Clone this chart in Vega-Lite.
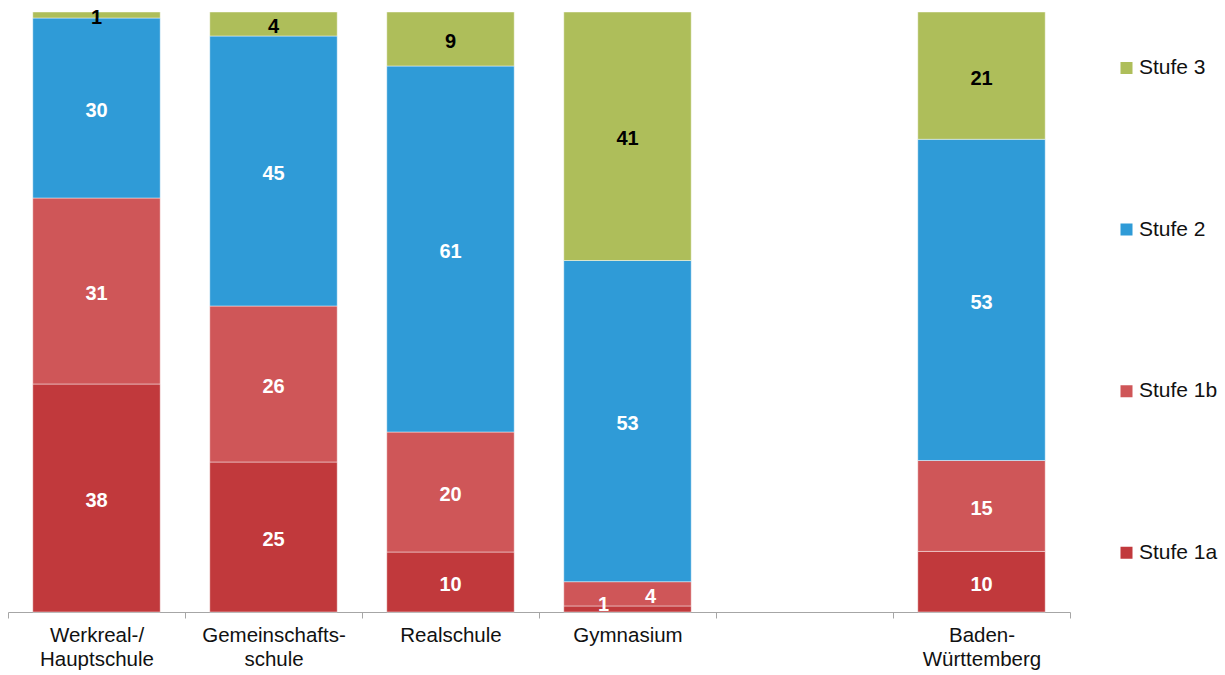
{
  "$schema": "https://vega.github.io/schema/vega-lite/v6.json",
  "width": 1062,
  "height": 600,
  "autosize": {"type": "none"},
  "padding": {"left": 8, "top": 12, "right": 155, "bottom": 63},
  "background": "white",
  "config": {
    "view": {"stroke": null},
    "font": "Liberation Sans"
  },
  "data": {
    "values": [
      {"schule": "Werkreal-/Hauptschule", "stufe": "Stufe 1a", "wert": 38},
      {"schule": "Werkreal-/Hauptschule", "stufe": "Stufe 1b", "wert": 31},
      {"schule": "Werkreal-/Hauptschule", "stufe": "Stufe 2", "wert": 30},
      {"schule": "Werkreal-/Hauptschule", "stufe": "Stufe 3", "wert": 1},
      {"schule": "Gemeinschaftsschule", "stufe": "Stufe 1a", "wert": 25},
      {"schule": "Gemeinschaftsschule", "stufe": "Stufe 1b", "wert": 26},
      {"schule": "Gemeinschaftsschule", "stufe": "Stufe 2", "wert": 45},
      {"schule": "Gemeinschaftsschule", "stufe": "Stufe 3", "wert": 4},
      {"schule": "Realschule", "stufe": "Stufe 1a", "wert": 10},
      {"schule": "Realschule", "stufe": "Stufe 1b", "wert": 20},
      {"schule": "Realschule", "stufe": "Stufe 2", "wert": 61},
      {"schule": "Realschule", "stufe": "Stufe 3", "wert": 9},
      {"schule": "Gymnasium", "stufe": "Stufe 1a", "wert": 1},
      {"schule": "Gymnasium", "stufe": "Stufe 1b", "wert": 4},
      {"schule": "Gymnasium", "stufe": "Stufe 2", "wert": 53},
      {"schule": "Gymnasium", "stufe": "Stufe 3", "wert": 41},
      {"schule": "Baden-Württemberg", "stufe": "Stufe 1a", "wert": 10},
      {"schule": "Baden-Württemberg", "stufe": "Stufe 1b", "wert": 15},
      {"schule": "Baden-Württemberg", "stufe": "Stufe 2", "wert": 53},
      {"schule": "Baden-Württemberg", "stufe": "Stufe 3", "wert": 21}
    ]
  },
  "encoding": {
    "x": {
      "field": "schule",
      "type": "nominal",
      "scale": {
        "domain": ["Werkreal-/Hauptschule", "Gemeinschaftsschule", "Realschule", "Gymnasium", "leer", "Baden-Württemberg"],
        "paddingInner": 0,
        "paddingOuter": 0
      },
      "axis": {
        "title": null,
        "labelAngle": 0,
        "labelFont": "Liberation Sans",
        "labelFontSize": 20.5,
        "labelColor": "#111111",
        "labelLineHeight": 24.5,
        "labelPadding": 7,
        "labelBaseline": "top",
        "tickBand": "extent",
        "tickSize": 6,
        "tickColor": "#A6A6A6",
        "domainColor": "#A6A6A6",
        "labelExpr": "datum.value == 'Werkreal-/Hauptschule' ? ['Werkreal-/', 'Hauptschule'] : datum.value == 'Gemeinschaftsschule' ? ['Gemeinschafts-', 'schule'] : datum.value == 'Baden-Württemberg' ? ['Baden-', 'Württemberg'] : datum.value == 'leer' ? '' : datum.value"
      }
    },
    "y": {
      "field": "wert",
      "type": "quantitative",
      "stack": "normalize",
      "scale": {"domain": [0, 1]},
      "axis": null
    },
    "order": {"field": "stufe", "sort": "ascending"}
  },
  "layer": [
    {
      "mark": {"type": "bar", "width": {"band": 0.72}, "stroke": "#ffffff", "strokeWidth": 1, "strokeOpacity": 0.45},
      "encoding": {
        "color": {
          "field": "stufe",
          "type": "nominal",
          "scale": {
            "domain": ["Stufe 3", "Stufe 2", "Stufe 1b", "Stufe 1a"],
            "range": ["#AEBE5A", "#2F9BD7", "#CF5658", "#C1393C"]
          },
          "legend": {
            "title": null,
            "orient": "none",
            "legendX": 1108,
            "legendY": 46,
            "padding": 0,
            "symbolType": "square",
            "symbolSize": 144,
            "symbolStrokeWidth": 0,
            "labelFont": "Liberation Sans",
            "labelFontSize": 21,
            "labelColor": "#111111",
            "labelOffset": 2,
            "clipHeight": 20,
            "rowPadding": 140.6
          }
        }
      }
    },
    {
      "mark": {"type": "text", "font": "Liberation Sans", "fontSize": 20, "fontWeight": "bold", "baseline": "middle", "dy": 3},
      "encoding": {
        "y": {"field": "wert", "type": "quantitative", "stack": "normalize", "bandPosition": 0.5},
        "text": {"field": "wert", "type": "quantitative"},
        "color": {"condition": {"test": "datum.stufe == 'Stufe 3'", "value": "#000000"}, "value": "#ffffff"},
        "opacity": {"condition": {"test": "datum.schule == 'Gymnasium' && (datum.stufe == 'Stufe 1a' || datum.stufe == 'Stufe 1b')", "value": 0}, "value": 1}
      }
    },
    {
      "mark": {"type": "text", "font": "Liberation Sans", "fontSize": 20, "fontWeight": "bold", "baseline": "middle", "dx": -24, "dy": -4, "color": "#ffffff"},
      "encoding": {
        "y": {"field": "wert", "type": "quantitative", "stack": "normalize", "bandPosition": 0.5},
        "text": {"field": "wert", "type": "quantitative"},
        "opacity": {"condition": {"test": "datum.schule == 'Gymnasium' && datum.stufe == 'Stufe 1a'", "value": 1}, "value": 0}
      }
    },
    {
      "mark": {"type": "text", "font": "Liberation Sans", "fontSize": 20, "fontWeight": "bold", "baseline": "middle", "dx": 23, "dy": 3, "color": "#ffffff"},
      "encoding": {
        "y": {"field": "wert", "type": "quantitative", "stack": "normalize", "bandPosition": 0.5},
        "text": {"field": "wert", "type": "quantitative"},
        "opacity": {"condition": {"test": "datum.schule == 'Gymnasium' && datum.stufe == 'Stufe 1b'", "value": 1}, "value": 0}
      }
    }
  ]
}
